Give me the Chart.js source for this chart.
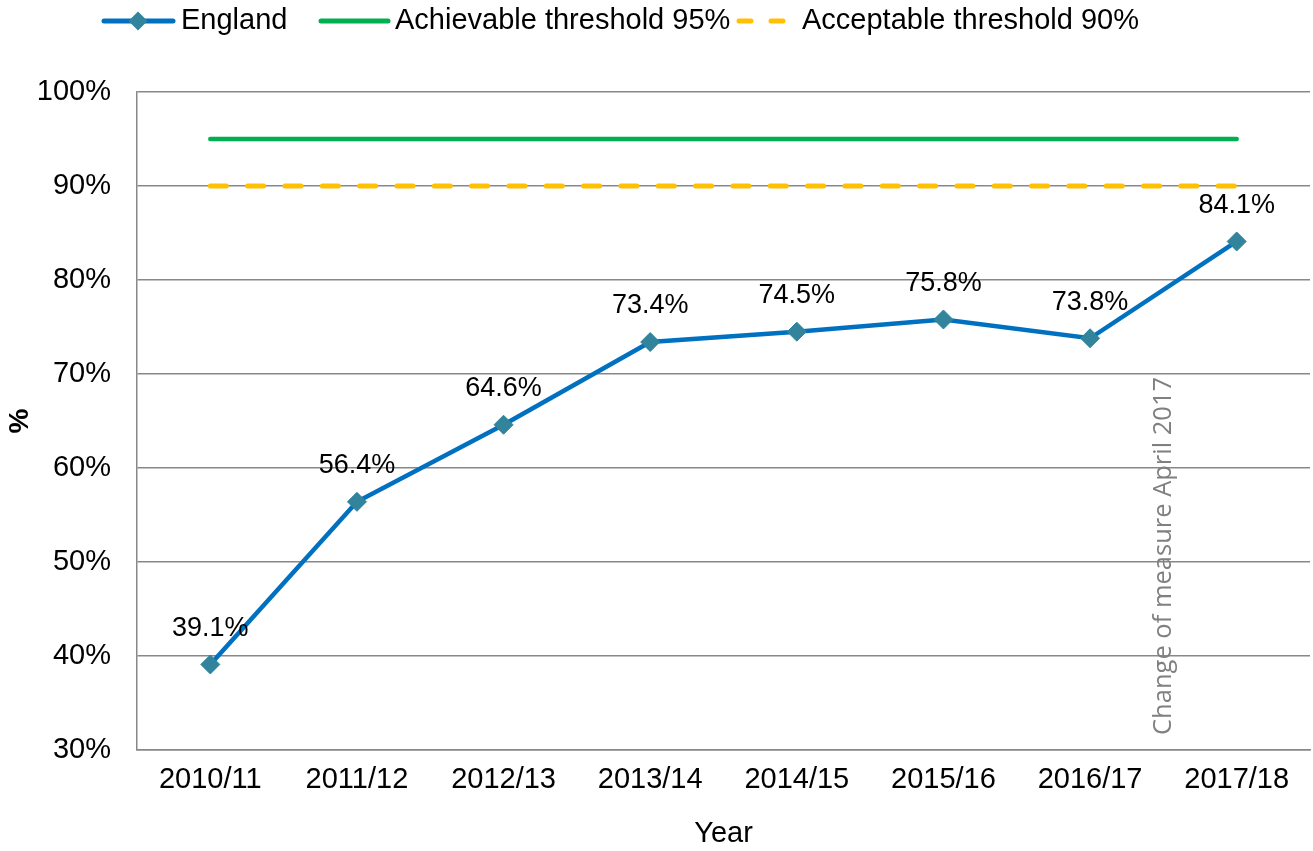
<!DOCTYPE html>
<html>
<head>
<meta charset="utf-8">
<script src="https://cdn.jsdelivr.net/npm/chart.js@4"></script>
<style>
html,body{margin:0;padding:0;background:#fff;overflow:hidden;}
#wrap{width:1313px;height:851px;position:absolute;left:0;top:0;}
#c{display:block;}
</style>
</head>
<body>
<div id="wrap"><canvas id="c"></canvas></div>
<script>
const categories = ['2010/11','2011/12','2012/13','2013/14','2014/15','2015/16','2016/17','2017/18'];
const englandValues = [39.1, 56.4, 64.6, 73.4, 74.5, 75.8, 73.8, 84.1];
const achievableValues = [95, 95, 95, 95, 95, 95, 95, 95];
const acceptableValues = [90, 90, 90, 90, 90, 90, 90, 90];
const seriesNames = ['England', 'Achievable threshold 95%', 'Acceptable threshold 90%'];
const yTicks = [30, 40, 50, 60, 70, 80, 90, 100];
const annotationText = 'Change of measure April 2017';
const annotationIndex = 6.5;
const annotationStartValue = 31.6;

const FONT = '"Liberation Sans", Arial, sans-serif';
const BLUE = '#0070C0', MARKER = '#31849B', GREEN = '#00B050', YELLOW = '#FFC000';

const labelPlugin = {
  id: 'valueLabels',
  afterDatasetsDraw(chart) {
    const ctx = chart.ctx;
    const meta = chart.getDatasetMeta(0);
    ctx.save();
    ctx.font = '27px ' + FONT;
    ctx.fillStyle = '#000';
    ctx.textAlign = 'center';
    ctx.textBaseline = 'middle';
    meta.data.forEach((pt, i) => {
      ctx.fillText(englandValues[i].toFixed(1) + '%', pt.x, pt.y - 36);
    });
    ctx.restore();
  }
};

const annotationPlugin = {
  id: 'annot',
  afterDatasetsDraw(chart) {
    const ctx = chart.ctx;
    const x = chart.scales.x.getPixelForValue(annotationIndex);
    const y = chart.scales.y.getPixelForValue(annotationStartValue);
    ctx.save();
    ctx.translate(x, y);
    ctx.rotate(-Math.PI / 2);
    ctx.font = '25.5px "Open Sans", "Noto Sans", sans-serif';
    ctx.fillStyle = '#808080';
    ctx.textAlign = 'left';
    ctx.textBaseline = 'middle';
    ctx.fillText(annotationText, 0, 0);
    ctx.restore();
  }
};

const legendPlugin = {
  id: 'customLegend',
  afterDraw(chart) {
    const ctx = chart.ctx;
    const cy = 21;
    ctx.save();
    ctx.lineCap = 'round';
    ctx.strokeStyle = BLUE; ctx.lineWidth = 5;
    ctx.beginPath(); ctx.moveTo(104, cy); ctx.lineTo(173, cy); ctx.stroke();
    ctx.fillStyle = MARKER;
    ctx.beginPath(); ctx.moveTo(138 - 9.5, cy); ctx.lineTo(138, cy - 9.5); ctx.lineTo(138 + 9.5, cy); ctx.lineTo(138, cy + 9.5); ctx.closePath(); ctx.fill();
    ctx.strokeStyle = GREEN;
    ctx.beginPath(); ctx.moveTo(321, cy); ctx.lineTo(388, cy); ctx.stroke();
    ctx.strokeStyle = YELLOW;
    ctx.beginPath(); ctx.moveTo(739, cy); ctx.lineTo(751, cy); ctx.stroke();
    ctx.beginPath(); ctx.moveTo(771, cy); ctx.lineTo(783, cy); ctx.stroke();
    ctx.font = '29px ' + FONT;
    ctx.fillStyle = '#000';
    ctx.textBaseline = 'middle';
    ctx.textAlign = 'left';
    ctx.fillText(seriesNames[0], 181, cy);
    ctx.fillText(seriesNames[1], 395, cy);
    ctx.fillText(seriesNames[2], 802, cy);
    ctx.restore();
  }
};

new Chart(document.getElementById('c'), {
  type: 'line',
  data: {
    labels: categories,
    datasets: [
      {
        label: seriesNames[0], data: englandValues,
        borderColor: BLUE, borderWidth: 4.5, tension: 0,
        pointStyle: 'rectRot', pointRadius: 9.5, pointBackgroundColor: MARKER,
        pointBorderColor: MARKER, pointBorderWidth: 1
      },
      {
        label: seriesNames[1], data: achievableValues,
        borderColor: GREEN, borderWidth: 4.5, pointRadius: 0, borderCapStyle: 'round'
      },
      {
        label: seriesNames[2], data: acceptableValues,
        borderColor: YELLOW, borderWidth: 5, pointRadius: 0,
        borderDash: [16, 21.33], borderCapStyle: 'round'
      }
    ]
  },
  options: {
    responsive: true,
    maintainAspectRatio: false,
    animation: false,
    layout: { autoPadding: false, padding: { top: 92, right: 3, left: 0, bottom: 0 } },
    plugins: { legend: { display: false }, tooltip: { enabled: false } },
    scales: {
      x: {
        offset: true,
        grid: { display: false, drawTicks: false },
        border: { display: true, color: '#888', width: 1.5 },
        ticks: { color: '#000', font: { family: FONT, size: 29 }, padding: 13, maxRotation: 0 },
        title: { display: true, text: 'Year', color: '#000', font: { family: FONT, size: 29 }, padding: { top: 6, bottom: 0 } },
        afterFit(s) { s.height = 101; s.paddingLeft = 0; s.paddingRight = 0; }
      },
      y: {
        min: 30, max: 100,
        afterBuildTicks(s) { s.ticks = yTicks.map(v => ({ value: v })); },
        grid: { color: '#888', lineWidth: 1.5, drawTicks: false },
        border: { display: true, color: '#888', width: 1.5 },
        ticks: { color: '#000', font: { family: FONT, size: 29 }, padding: 26, callback: v => v + '%' },
        title: { display: true, text: '%', color: '#000', font: { family: FONT, size: 28, weight: 'bold' }, padding: { top: 3, bottom: 0 } },
        afterFit(s) { s.width = 137; s.paddingLeft = 0; s.paddingRight = 0; }
      }
    }
  },
  plugins: [labelPlugin, annotationPlugin, legendPlugin]
});
</script>
</body>
</html>
